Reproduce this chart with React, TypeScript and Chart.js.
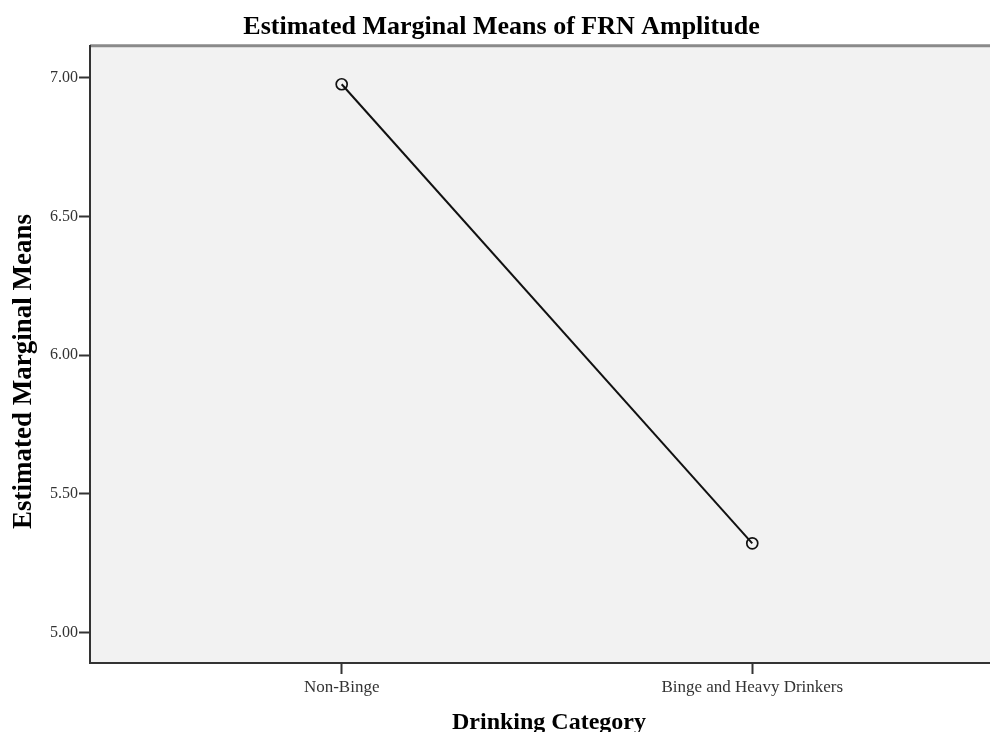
import React, { useEffect, useRef } from "react";
import { Chart, registerables } from "chart.js";

Chart.register(...registerables);

const chartTitle = "  Estimated Marginal Means of FRN Amplitude";
const xAxisTitle = "   Drinking Category";
const yAxisTitle = "Estimated Marginal Means     ";
const categories = ["Non-Binge", "Binge and Heavy Drinkers"];
const categoryIndex = [0, 1];
const meanValues = [6.976, 5.322];
const yTickValues = [5.0, 5.5, 6.0, 6.5, 7.0];
const yTickLabels = ["5.00", "5.50", "6.00", "6.50", "7.00"];

const SERIF = "'Liberation Serif', 'Times New Roman', serif";

const plotBackground = {
  id: "plotBackground",
  beforeDraw(chart: any) {
    const { ctx, chartArea } = chart;
    if (!chartArea) return;
    ctx.save();
    ctx.fillStyle = "#f2f2f2";
    ctx.fillRect(chartArea.left, chartArea.top, chartArea.right - chartArea.left, chartArea.bottom - chartArea.top);
    ctx.strokeStyle = "#8a8a8a";
    ctx.lineWidth = 3;
    ctx.beginPath();
    ctx.moveTo(chartArea.left, chartArea.top - 0.5);
    ctx.lineTo(chartArea.right, chartArea.top - 0.5);
    ctx.stroke();
    ctx.restore();
  },
};

export default function App() {
  const canvasRef = useRef<HTMLCanvasElement | null>(null);

  useEffect(() => {
    document.body.style.margin = "0";
    const canvas = canvasRef.current;
    if (!canvas) return;
    const chart = new Chart(canvas, {
      type: "line",
      data: {
        datasets: [
          {
            data: categoryIndex.map((x, i) => ({ x, y: meanValues[i] })),
            borderColor: "#111111",
            borderWidth: 2,
            pointRadius: 5.5,
            pointBorderWidth: 1.7,
            pointBorderColor: "#111111",
            pointBackgroundColor: "rgba(0,0,0,0)",
            fill: false,
            tension: 0,
            clip: false,
          },
        ],
      },
      plugins: [plotBackground],
      options: {
        responsive: false,
        animation: false,
        layout: { padding: 0, autoPadding: false },
        plugins: {
          legend: { display: false },
          tooltip: { enabled: false },
          title: {
            display: true,
            text: chartTitle,
            color: "#000000",
            font: { family: SERIF, size: 26, weight: "bold", lineHeight: 1.2 },
            padding: { top: 12, bottom: 3 },
          },
        },
        scales: {
          x: {
            type: "linear",
            min: -0.613,
            max: 1.579,
            afterBuildTicks: (scale: any) => {
              scale.ticks = categoryIndex.map((v) => ({ value: v }));
            },
            afterFit: (scale: any) => {
              scale.height = 69;
              scale.paddingLeft = 0;
              scale.paddingRight = 0;
            },
            ticks: {
              callback: (value: any) => categories[Number(value)] ?? "",
              color: "#333333",
              font: { family: SERIF, size: 17 },
              padding: 3,
              maxRotation: 0,
              autoSkip: false,
            },
            grid: {
              drawOnChartArea: false,
              drawTicks: true,
              tickLength: 11,
              tickColor: "#333333",
              tickWidth: 2,
            },
            border: { display: true, color: "#333333", width: 2 },
            title: {
              display: true,
              text: xAxisTitle,
              color: "#000000",
              font: { family: SERIF, size: 24, weight: "bold", lineHeight: 0.8 },
              padding: { top: 0, bottom: 0 },
            },
          },
          y: {
            type: "linear",
            min: 4.891,
            max: 7.113,
            afterBuildTicks: (scale: any) => {
              scale.ticks = yTickValues.map((v) => ({ value: v }));
            },
            afterFit: (scale: any) => {
              scale.width = 90;
              scale.paddingTop = 0;
              scale.paddingBottom = 0;
            },
            ticks: {
              callback: (value: any) => {
                const idx = yTickValues.indexOf(Number(value));
                return idx >= 0 ? yTickLabels[idx] : "";
              },
              color: "#333333",
              font: { family: SERIF, size: 16 },
              padding: 1,
            },
            grid: {
              drawOnChartArea: false,
              drawTicks: true,
              tickLength: 11,
              tickColor: "#333333",
              tickWidth: 2,
            },
            border: { display: true, color: "#333333", width: 2 },
            title: {
              display: true,
              text: yAxisTitle,
              color: "#000000",
              font: { family: SERIF, size: 27, weight: "bold", lineHeight: 1.2 },
              padding: { top: 8, bottom: 0 },
            },
          },
        },
      },
    });
    return () => chart.destroy();
  }, []);

  return (
    <div style={{ width: 990, height: 732, background: "#ffffff" }}>
      <canvas ref={canvasRef} width={990} height={732} style={{ display: "block" }} />
    </div>
  );
}
